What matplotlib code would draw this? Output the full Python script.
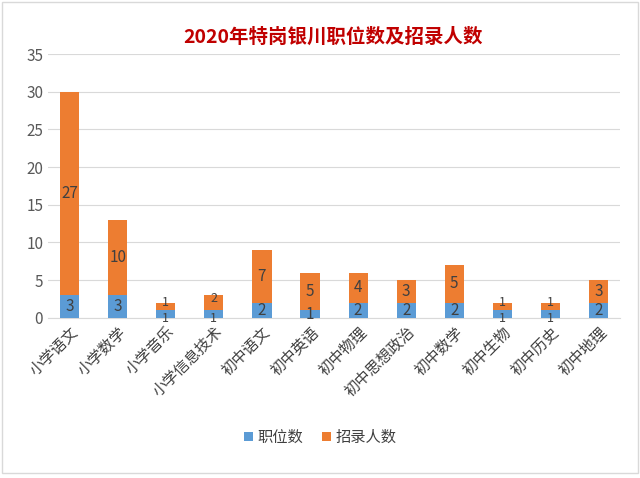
import numpy as np
import matplotlib.pyplot as plt

plt.rcParams['font.family'] = ['Noto Sans CJK SC', 'DejaVu Sans']

categories = ['小学语文', '小学数学', '小学音乐', '小学信息技术', '初中语文', '初中英语',
              '初中物理', '初中思想政治', '初中数学', '初中生物', '初中历史', '初中地理']
positions = [3, 3, 1, 1, 2, 1, 2, 2, 2, 1, 1, 2]
recruits = [27, 10, 1, 2, 7, 5, 4, 3, 5, 1, 1, 3]

fig = plt.figure(figsize=(6.4, 4.78), dpi=100)
ax = fig.add_axes([0.075, 0.335, 0.894, 0.552])

x = np.arange(len(categories))
w = 0.4
b1 = ax.bar(x, positions, w, color='#5b9bd5', label='职位数', zorder=3)
b2 = ax.bar(x, recruits, w, bottom=positions, color='#ed7d31', label='招录人数', zorder=3)

for i in range(len(categories)):
    # small segments: shrink the text and push the pair apart a little
    tight = positions[i] == 1 and recruits[i] <= 2
    fs = 9 if tight else 11
    dy = 3 if tight else 0
    ax.annotate(str(positions[i]), (x[i], positions[i] / 2), xytext=(0, -dy),
                textcoords='offset points', ha='center', va='center',
                fontsize=fs, color='#404040', zorder=4)
    ax.annotate(str(recruits[i]), (x[i], positions[i] + recruits[i] / 2), xytext=(0, dy),
                textcoords='offset points', ha='center', va='center',
                fontsize=fs, color='#404040', zorder=4)

ax.set_ylim(0, 35)
ax.set_yticks(range(0, 36, 5))
ax.set_xlim(-0.45, len(categories) - 0.55)
ax.set_xticks(x)
ax.set_xticklabels(categories, rotation=45, ha='right', rotation_mode='anchor', fontsize=11, color='#404040')
ax.tick_params(axis='y', labelsize=11, labelcolor='#595959', length=0)
ax.tick_params(axis='x', length=0, pad=4)
ax.grid(axis='y', color='#d9d9d9', linewidth=0.8, zorder=0)
for s in ['top', 'right', 'left']:
    ax.spines[s].set_visible(False)
ax.spines['bottom'].set_color('#d9d9d9')

fig.text(0.52, 0.922, '2020年特岗银川职位数及招录人数', ha='center', va='center',
         fontsize=14, fontweight='bold', color='#c00000')

fig.legend(handles=[b1, b2], loc='center', bbox_to_anchor=(0.5, 0.085), ncol=2, frameon=False,
           fontsize=11, handlelength=0.6, handleheight=0.6, columnspacing=1.2, handletextpad=0.3,
           labelcolor='#404040')

fig.patches.append(plt.Rectangle((0.003, 0.01), 0.994, 0.985, transform=fig.transFigure,
                                 fill=False, edgecolor='#d9d9d9', linewidth=1))

fig.savefig('out.png', dpi=100)
